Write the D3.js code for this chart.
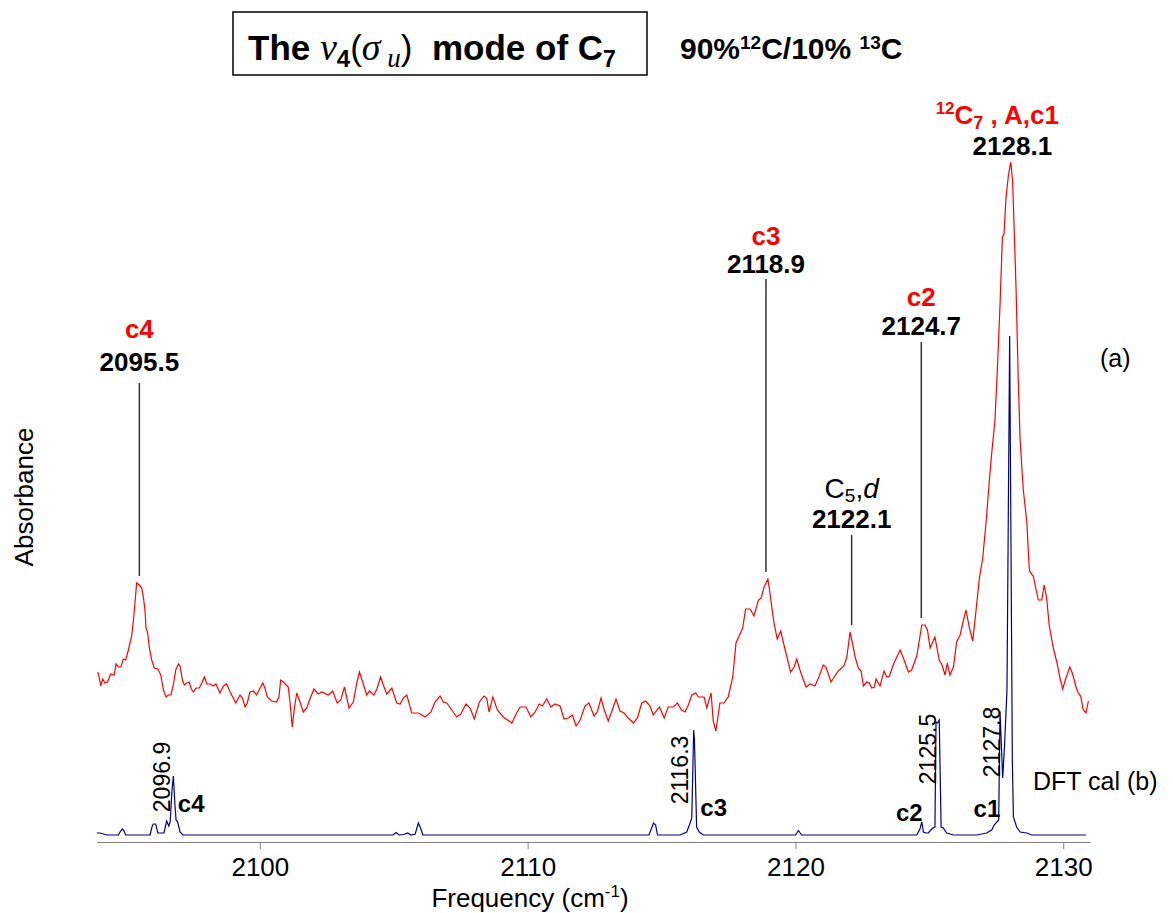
<!DOCTYPE html>
<html>
<head>
<meta charset="utf-8">
<script src="https://cdn.jsdelivr.net/npm/d3@7"></script>
<style>
  body { margin: 0; background: #fff; }
  text { font-family: Arial, "Liberation Sans", sans-serif; }
</style>
</head>
<body>
<svg width="1173" height="913"></svg>
<script>
// measured spectrum (a), 90% 12C / 10% 13C, absorbance vs frequency (cm-1)
var redFreq = [
  2093.92,2093.97,2094.06,2094.13,2094.22,2094.31,2094.43,2094.56,2094.63,2094.72,
  2094.81,2094.90,2094.99,2095.09,2095.22,2095.28,2095.34,2095.40,2095.50,2095.59,
  2095.65,2095.71,2095.75,2095.81,2095.87,2095.96,2096.06,2096.19,2096.30,2096.40,
  2096.50,2096.58,2096.68,2096.77,2096.86,2096.96,2097.02,2097.11,2097.18,2097.27,
  2097.36,2097.44,2097.52,2097.62,2097.74,2097.83,2097.93,2098.02,2098.14,2098.26,
  2098.36,2098.51,2098.64,2098.76,2098.89,2099.10,2099.26,2099.35,2099.45,2099.53,
  2099.63,2099.76,2099.88,2100.01,2100.11,2100.19,2100.28,2100.44,2100.63,2100.71,
  2100.78,2100.88,2101.06,2101.13,2101.21,2101.29,2101.38,2101.50,2101.62,2101.75,
  2101.87,2102.02,2102.18,2102.31,2102.56,2102.72,2102.89,2103.02,2103.16,2103.24,
  2103.33,2103.49,2103.62,2103.72,2103.84,2103.99,2104.09,2104.26,2104.37,2104.51,
  2104.61,2104.74,2104.93,2105.11,2105.24,2105.36,2105.49,2105.67,2105.92,2106.05,
  2106.17,2106.39,2106.54,2106.73,2106.85,2106.98,2107.17,2107.35,2107.50,2107.70,
  2107.85,2108.01,2108.20,2108.37,2108.47,2108.56,2108.70,2108.87,2109.09,2109.41,
  2109.59,2109.72,2109.94,2110.12,2110.28,2110.43,2110.55,2110.71,2110.87,2111.02,
  2111.21,2111.36,2111.52,2111.67,2111.81,2111.96,2112.14,2112.29,2112.48,2112.60,
  2112.74,2112.85,2113.01,2113.16,2113.30,2113.45,2113.60,2113.76,2113.95,2114.10,
  2114.26,2114.41,2114.57,2114.69,2114.92,2115.10,2115.25,2115.44,2115.59,2115.75,
  2115.88,2116.00,2116.13,2116.28,2116.37,2116.59,2116.69,2116.85,2116.93,2117.03,
  2117.18,2117.33,2117.49,2117.66,2117.78,2117.93,2118.03,2118.14,2118.31,2118.45,
  2118.62,2118.72,2118.83,2118.97,2119.05,2119.18,2119.32,2119.45,2119.59,2119.70,
  2119.82,2119.95,2120.05,2120.17,2120.27,2120.40,2120.55,2120.73,2120.89,2121.04,
  2121.14,2121.33,2121.45,2121.60,2121.81,2121.92,2122.04,2122.12,2122.23,2122.35,
  2122.45,2122.54,2122.66,2122.76,2122.85,2122.95,2123.01,2123.16,2123.31,2123.41,
  2123.51,2123.68,2123.91,2124.03,2124.22,2124.34,2124.53,2124.72,2124.84,2124.93,
  2125.03,2125.21,2125.37,2125.46,2125.59,2125.67,2125.77,2125.90,2126.02,2126.15,
  2126.25,2126.37,2126.49,2126.62,2126.73,2126.87,2126.99,2127.12,2127.24,2127.33,
  2127.45,2127.54,2127.64,2127.73,2127.79,2127.86,2127.95,2128.04,2128.11,2128.16,
  2128.24,2128.32,2128.39,2128.51,2128.64,2128.73,2128.76,2128.88,2129.07,2129.20,
  2129.29,2129.38,2129.48,2129.63,2129.76,2129.88,2129.98,2130.10,2130.25,2130.35,
  2130.48,2130.56,2130.65,2130.75,2130.85,2130.94
];
var redAbs = [
  0.169,0.169,0.156,0.163,0.159,0.160,0.168,0.167,0.178,0.175,
  0.175,0.183,0.182,0.192,0.207,0.222,0.240,0.259,0.257,0.254,
  0.245,0.232,0.214,0.209,0.195,0.182,0.174,0.173,0.167,0.152,
  0.145,0.147,0.147,0.157,0.172,0.178,0.176,0.162,0.157,0.159,
  0.160,0.153,0.150,0.154,0.154,0.159,0.165,0.158,0.158,0.156,
  0.158,0.149,0.156,0.158,0.150,0.139,0.147,0.144,0.135,0.139,
  0.150,0.151,0.147,0.154,0.159,0.154,0.145,0.141,0.140,0.145,
  0.162,0.160,0.155,0.139,0.115,0.134,0.149,0.140,0.130,0.134,
  0.143,0.153,0.148,0.150,0.147,0.151,0.139,0.142,0.155,0.145,
  0.134,0.140,0.159,0.170,0.160,0.147,0.151,0.147,0.153,0.165,
  0.157,0.148,0.154,0.139,0.138,0.144,0.147,0.129,0.129,0.127,
  0.125,0.130,0.140,0.146,0.140,0.139,0.132,0.125,0.128,0.138,
  0.134,0.123,0.140,0.146,0.144,0.130,0.145,0.132,0.125,0.119,
  0.129,0.135,0.135,0.125,0.130,0.138,0.136,0.143,0.135,0.138,
  0.136,0.123,0.124,0.127,0.116,0.122,0.136,0.139,0.126,0.130,
  0.144,0.133,0.121,0.132,0.143,0.131,0.129,0.124,0.119,0.124,
  0.139,0.141,0.136,0.127,0.135,0.124,0.135,0.135,0.139,0.132,
  0.130,0.137,0.147,0.149,0.145,0.145,0.134,0.149,0.121,0.111,
  0.139,0.139,0.145,0.165,0.199,0.208,0.214,0.233,0.233,0.226,
  0.242,0.244,0.255,0.263,0.249,0.222,0.203,0.211,0.195,0.183,
  0.170,0.175,0.183,0.172,0.164,0.155,0.158,0.156,0.166,0.177,
  0.175,0.160,0.165,0.171,0.176,0.185,0.210,0.200,0.185,0.174,
  0.171,0.156,0.160,0.159,0.154,0.155,0.163,0.156,0.171,0.165,
  0.166,0.179,0.192,0.184,0.170,0.172,0.186,0.217,0.217,0.212,
  0.194,0.205,0.182,0.178,0.167,0.179,0.167,0.175,0.200,0.207,
  0.219,0.232,0.215,0.201,0.228,0.264,0.283,0.320,0.361,0.389,
  0.421,0.472,0.537,0.605,0.608,0.643,0.666,0.680,0.661,0.620,
  0.552,0.463,0.402,0.352,0.320,0.274,0.270,0.266,0.242,0.242,
  0.257,0.244,0.216,0.194,0.180,0.164,0.153,0.164,0.175,0.168,
  0.155,0.149,0.146,0.132,0.129,0.141
];

// DFT calculated spectrum (b)
var blueFreq = [
  2093.91,2094.03,2094.16,2094.29,2094.72,2094.80,2094.87,2094.93,2094.99,
  2095.90,2095.97,2096.02,2096.11,2096.19,2096.42,2096.52,2096.60,2096.65,2096.72,2096.77,2096.83,2096.87,2096.93,2097.02,2097.13,
  2104.97,2105.09,2105.20,2105.38,2105.52,2105.65,2105.80,2105.92,2106.00,2106.09,
  2114.53,2114.63,2114.70,2114.78,2114.85,
  2115.69,2115.94,2116.04,2116.13,2116.20,2116.23,2116.31,2116.41,2116.56,
  2120.00,2120.11,2120.23,
  2124.53,2124.65,2124.72,2124.78,2124.88,2124.96,2125.13,2125.21,2125.25,2125.31,2125.37,2125.44,2125.52,2125.65,2125.90,
  2126.77,2127.14,2127.33,2127.42,2127.52,2127.59,2127.64,2127.74,2127.81,2127.90,2128.00,2128.10,2128.14,2128.26,2128.39,2128.64,2128.82,2130.85
];
var blueAbs = [
  0.009,0.009,0.008,0.007,0.007,0.011,0.013,0.011,0.007,
  0.007,0.015,0.018,0.018,0.009,0.009,0.021,0.016,0.020,0.052,0.066,0.037,0.022,0.020,0.010,0.007,
  0.007,0.0095,0.007,0.0075,0.009,0.007,0.008,0.019,0.014,0.007,
  0.007,0.014,0.019,0.017,0.007,
  0.007,0.010,0.017,0.024,0.112,0.102,0.015,0.010,0.007,
  0.007,0.0115,0.007,
  0.007,0.013,0.020,0.010,0.009,0.009,0.014,0.015,0.120,0.119,0.122,0.015,0.014,0.009,0.007,
  0.007,0.009,0.012,0.017,0.020,0.022,0.1305,0.064,0.097,0.152,0.506,0.082,0.025,0.015,0.010,0.009,0.007,0.007
];

var tickValues = [2100, 2110, 2120, 2130];

// assigned bands
var exptFreq = [2095.5, 2118.9, 2122.1, 2124.7, 2128.1];
var exptName = ["c4", "c3", "C5,d", "c2", "12C7 , A,c1"];
var dftFreq = [2096.9, 2116.3, 2125.5, 2127.8];
var dftName = ["c4", "c3", "c2", "c1"];

var svg = d3.select("svg");
var sans = "Arial, 'Liberation Sans', sans-serif";
var serif = "'Times New Roman', 'Liberation Serif', serif";

var x = d3.scaleLinear().domain([2093.9, 2131]).range([96.5, 1090]);
var y = d3.scaleLinear().domain([0, 0.68]).range([842, 162]);

var line = d3.line()
    .x(function(d) { return x(d[0]); })
    .y(function(d) { return y(d[1]); });

svg.append("path")
    .datum(d3.zip(blueFreq, blueAbs))
    .attr("fill", "none")
    .attr("stroke", "#000080")
    .attr("stroke-width", 1.2)
    .attr("d", line);

svg.append("path")
    .datum(d3.zip(redFreq, redAbs))
    .attr("fill", "none")
    .attr("stroke", "#ff0000")
    .attr("stroke-width", 1.2)
    .attr("d", line);

// x axis
var gx = svg.append("g")
    .attr("transform", "translate(0,842)")
    .call(d3.axisBottom(x).tickValues(tickValues).tickFormat(d3.format("d"))
        .tickSize(7).tickSizeOuter(0).tickPadding(9));
gx.attr("font-family", sans).attr("font-size", 26);
gx.select(".domain").attr("stroke", "#808080");
gx.selectAll(".tick line").attr("stroke", "#808080");
gx.selectAll(".tick text").attr("fill", "#000");

var xl = svg.append("text")
    .attr("x", 530).attr("y", 907)
    .attr("text-anchor", "middle")
    .attr("font-size", 26);
xl.append("tspan").text("Frequency (cm");
xl.append("tspan").attr("dy", -10).attr("font-size", 17).text("-1");
xl.append("tspan").attr("dy", 10).text(")");

svg.append("text")
    .attr("transform", "translate(33,497) rotate(-90)")
    .attr("text-anchor", "middle")
    .attr("font-size", 26)
    .text("Absorbance");

// title box
svg.append("rect")
    .attr("x", 233).attr("y", 12).attr("width", 414).attr("height", 63)
    .attr("fill", "none").attr("stroke", "#000").attr("stroke-width", 1.5);

var t = svg.append("text")
    .attr("x", 248).attr("y", 60)
    .attr("font-size", 35).attr("font-weight", "bold");
t.append("tspan").text("The ");
t.append("tspan").attr("font-family", serif).attr("font-style", "italic")
    .attr("font-weight", "normal").attr("font-size", 38).text("v");
t.append("tspan").attr("dy", 7).attr("font-size", 24).text("4");
t.append("tspan").attr("dy", -7).attr("font-weight", "normal").text("(");
t.append("tspan").attr("font-family", serif).attr("font-style", "italic")
    .attr("font-weight", "normal").attr("font-size", 38).text("\u03c3");
t.append("tspan").attr("dy", 7).attr("font-family", serif).attr("font-style", "italic")
    .attr("font-weight", "normal").attr("font-size", 27).text(" u");
t.append("tspan").attr("dy", -7).attr("font-weight", "normal").text(")");
t.append("tspan").text("\u00a0 mode of C");
t.append("tspan").attr("dy", 7).attr("font-size", 23).text("7");

var t2 = svg.append("text")
    .attr("x", 680).attr("y", 59)
    .attr("font-size", 30).attr("font-weight", "bold");
t2.append("tspan").text("90%");
t2.append("tspan").attr("dy", -10).attr("font-size", 19).text("12");
t2.append("tspan").attr("dy", 10).text("C/10% ");
t2.append("tspan").attr("dy", -10).attr("font-size", 19).text("13");
t2.append("tspan").attr("dy", 10).text("C");

// measured band labels
var exptLayout = [
  {nameY: 338, valY: 371, top: 383},
  {nameY: 245, valY: 273, top: 279},
  {nameY: 498, valY: 528, top: 535},
  {nameY: 306, valY: 335, top: 342},
  {nameY: 124, valY: 155, top: null}
];

function peakAbs(f) {
  var m = 0;
  redFreq.forEach(function(v, i) { if (Math.abs(v - f) < 0.3) m = Math.max(m, redAbs[i]); });
  return m;
}

exptFreq.forEach(function(f, i) {
  var L = exptLayout[i], cx = x(f);
  if (L.top !== null) {
    svg.append("line")
        .attr("x1", cx).attr("x2", cx)
        .attr("y1", L.top).attr("y2", y(peakAbs(f)) - 7)
        .attr("stroke", "#333").attr("stroke-width", 1.5);
  }
  svg.append("text")
      .attr("x", cx).attr("y", L.valY)
      .attr("text-anchor", "middle")
      .attr("font-size", 26).attr("font-weight", "bold")
      .text(d3.format(".1f")(f));

  var nm = exptName[i];
  if (nm === "C5,d") {
    var c = svg.append("text").attr("x", cx).attr("y", L.nameY)
        .attr("text-anchor", "middle").attr("font-family", serif).attr("font-size", 28);
    c.append("tspan").text("C");
    c.append("tspan").attr("dy", 4).attr("font-size", 19).text("5");
    c.append("tspan").attr("dy", -4).text(",");
    c.append("tspan").attr("font-style", "italic").text("d");
  } else if (nm.indexOf("12C7") === 0) {
    var a = svg.append("text").attr("x", cx - 15).attr("y", L.nameY)
        .attr("text-anchor", "middle").attr("fill", "#ff0000")
        .attr("font-size", 26).attr("font-weight", "bold");
    a.append("tspan").attr("dy", -10).attr("font-size", 17).text("12");
    a.append("tspan").attr("dy", 10).text("C");
    a.append("tspan").attr("dy", 5).attr("font-size", 18).text("7");
    a.append("tspan").attr("dy", -5).text(" , A,c1");
  } else {
    svg.append("text").attr("x", cx).attr("y", L.nameY)
        .attr("text-anchor", "middle").attr("fill", "#ff0000")
        .attr("font-size", 26).attr("font-weight", "bold")
        .text(nm);
  }
});

svg.append("text").attr("x", 1100).attr("y", 367).attr("font-size", 25).text("(a)");
svg.append("text").attr("x", 1033).attr("y", 790).attr("font-size", 25).text("DFT cal (b)");

// calculated band labels
var dftLayout = [
  {dx: -7, cy: 777, nameDx: 1, nameY: 812, anchor: "start"},
  {dx: -8, cy: 770, nameDx: 4, nameY: 816, anchor: "start"},
  {dx: -7, cy: 749, nameDx: -20, nameY: 821, anchor: "end"},
  {dx: -4, cy: 742, nameDx: -4, nameY: 817, anchor: "end"}
];

dftFreq.forEach(function(f, i) {
  var L = dftLayout[i], cx = x(f);
  svg.append("text")
      .attr("transform", "translate(" + (cx + L.dx) + "," + L.cy + ") rotate(-90)")
      .attr("text-anchor", "middle")
      .attr("font-size", 23)
      .text(d3.format(".1f")(f));
  svg.append("text")
      .attr("x", cx + L.nameDx).attr("y", L.nameY)
      .attr("text-anchor", L.anchor)
      .attr("font-size", 24).attr("font-weight", "bold")
      .text(dftName[i]);
});
</script>
</body>
</html>
